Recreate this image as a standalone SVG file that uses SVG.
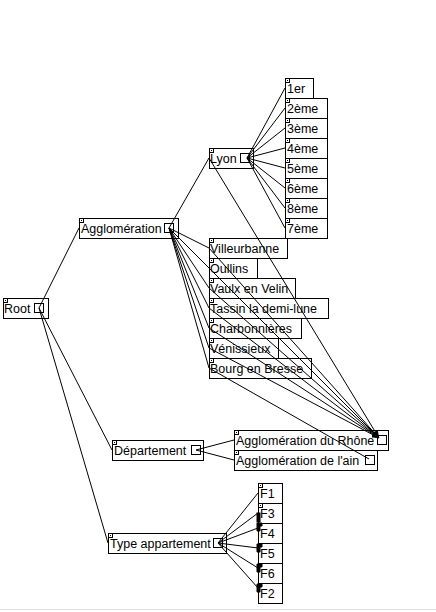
<svg xmlns="http://www.w3.org/2000/svg" width="436" height="612" viewBox="0 0 436 612">
<style>
.box{fill:#fff;stroke:#000;stroke-width:1}
.sq{fill:#fff;stroke:#000;stroke-width:1}
.mk{fill:#fff;stroke:#000;stroke-width:1}
.dot{fill:#000}
.lbl{font-family:"Liberation Sans",Arial,sans-serif;font-size:12.5px;fill:#000}
.edge{stroke:#000;stroke-width:1;fill:none}
.blk{fill:#000}
</style>
<defs>
<marker id="arr" markerUnits="userSpaceOnUse" markerWidth="7" markerHeight="6" refX="7" refY="3" orient="auto">
<path d="M0,0 L7,3 L0,6 z" fill="#000"/>
</marker>
</defs>
<rect x="0" y="0" width="436" height="612" fill="#fff"/>
<line x1="0" y1="609.5" x2="436" y2="609.5" stroke="#dcdcdc" stroke-width="1"/>

<g id="nodes">
<g id="root"><rect class="box" x="3.5" y="298.5" width="45" height="20"/><rect class="mk" x="3.5" y="298.5" width="4" height="4"/><rect class="dot" x="5" y="300" width="1" height="1"/><text class="lbl" x="4" y="313">Root</text><rect class="sq" x="34.5" y="303.5" width="9" height="9"/></g>

<g id="agglomeration"><rect class="box" x="79.5" y="218.5" width="99" height="20"/><rect class="mk" x="79.5" y="218.5" width="4" height="4"/><rect class="dot" x="81" y="220" width="1" height="1"/><text class="lbl" x="81" y="233">Agglomération</text><rect class="sq" x="164.5" y="223.5" width="9" height="9"/></g>

<g id="lyon"><rect class="box" x="209.5" y="148.5" width="44" height="20"/><rect class="mk" x="209.5" y="148.5" width="4" height="4"/><rect class="dot" x="211" y="150" width="1" height="1"/><text class="lbl" x="210" y="163">Lyon</text><rect class="sq" x="240.5" y="153.5" width="9" height="9"/></g>

<g id="l1er"><rect class="box" x="285.5" y="78.5" width="28" height="20"/><rect class="mk" x="285.5" y="78.5" width="4" height="4"/><rect class="dot" x="287" y="80" width="1" height="1"/><text class="lbl" x="287" y="93">1er</text></g>
<g id="l2eme"><rect class="box" x="285.5" y="98.5" width="42" height="20"/><rect class="mk" x="285.5" y="98.5" width="4" height="4"/><rect class="dot" x="287" y="100" width="1" height="1"/><text class="lbl" x="287" y="113">2ème</text></g>
<g id="l3eme"><rect class="box" x="285.5" y="118.5" width="42" height="20"/><rect class="mk" x="285.5" y="118.5" width="4" height="4"/><rect class="dot" x="287" y="120" width="1" height="1"/><text class="lbl" x="287" y="133">3ème</text></g>
<g id="l4eme"><rect class="box" x="285.5" y="138.5" width="42" height="20"/><rect class="mk" x="285.5" y="138.5" width="4" height="4"/><rect class="dot" x="287" y="140" width="1" height="1"/><text class="lbl" x="287" y="153">4ème</text></g>
<g id="l5eme"><rect class="box" x="285.5" y="158.5" width="42" height="20"/><rect class="mk" x="285.5" y="158.5" width="4" height="4"/><rect class="dot" x="287" y="160" width="1" height="1"/><text class="lbl" x="287" y="173">5ème</text></g>
<g id="l6eme"><rect class="box" x="285.5" y="178.5" width="42" height="20"/><rect class="mk" x="285.5" y="178.5" width="4" height="4"/><rect class="dot" x="287" y="180" width="1" height="1"/><text class="lbl" x="287" y="193">6ème</text></g>
<g id="l8eme"><rect class="box" x="285.5" y="198.5" width="42" height="20"/><rect class="mk" x="285.5" y="198.5" width="4" height="4"/><rect class="dot" x="287" y="200" width="1" height="1"/><text class="lbl" x="287" y="213">8ème</text></g>
<g id="l7eme"><rect class="box" x="285.5" y="218.5" width="42" height="20"/><rect class="mk" x="285.5" y="218.5" width="4" height="4"/><rect class="dot" x="287" y="220" width="1" height="1"/><text class="lbl" x="287" y="233">7ème</text></g>

<g id="villeurbanne"><rect class="box" x="209.5" y="238.5" width="78" height="20"/><rect class="mk" x="209.5" y="238.5" width="4" height="4"/><rect class="dot" x="211" y="240" width="1" height="1"/><text class="lbl" x="210" y="253">Villeurbanne</text></g>
<g id="oullins"><rect class="box" x="209.5" y="258.5" width="48" height="20"/><rect class="mk" x="209.5" y="258.5" width="4" height="4"/><rect class="dot" x="211" y="260" width="1" height="1"/><text class="lbl" x="210" y="273">Oullins</text></g>
<g id="vaulx"><rect class="box" x="209.5" y="278.5" width="86" height="20"/><rect class="mk" x="209.5" y="278.5" width="4" height="4"/><rect class="dot" x="211" y="280" width="1" height="1"/><text class="lbl" x="210" y="293">Vaulx en Velin</text></g>
<g id="tassin"><rect class="box" x="209.5" y="298.5" width="119" height="20"/><rect class="mk" x="209.5" y="298.5" width="4" height="4"/><rect class="dot" x="211" y="300" width="1" height="1"/><text class="lbl" x="210" y="313">Tassin la demi-lune</text></g>
<g id="charbonnieres"><rect class="box" x="209.5" y="318.5" width="92" height="20"/><rect class="mk" x="209.5" y="318.5" width="4" height="4"/><rect class="dot" x="211" y="320" width="1" height="1"/><text class="lbl" x="210" y="333">Charbonnières</text></g>
<g id="venissieux"><rect class="box" x="209.5" y="338.5" width="69" height="20"/><rect class="mk" x="209.5" y="338.5" width="4" height="4"/><rect class="dot" x="211" y="340" width="1" height="1"/><text class="lbl" x="210" y="353">Vénissieux</text></g>
<g id="bourg"><rect class="box" x="209.5" y="358.5" width="102" height="20"/><rect class="mk" x="209.5" y="358.5" width="4" height="4"/><rect class="dot" x="211" y="360" width="1" height="1"/><text class="lbl" x="210" y="373">Bourg en Bresse</text></g>

<g id="departement"><rect class="box" x="112.5" y="440.5" width="91" height="20"/><rect class="mk" x="112.5" y="440.5" width="4" height="4"/><rect class="dot" x="114" y="442" width="1" height="1"/><text class="lbl" x="114" y="455">Département</text><rect class="sq" x="191.5" y="445.5" width="9" height="9"/></g>

<g id="agglo-rhone"><rect class="box" x="234.5" y="430.5" width="154" height="20"/><rect class="mk" x="234.5" y="430.5" width="4" height="4"/><rect class="dot" x="236" y="432" width="1" height="1"/><text class="lbl" x="236" y="445">Agglomération du Rhône</text><rect class="sq" x="377.5" y="435.5" width="9" height="9"/></g>
<g id="agglo-ain"><rect class="box" x="234.5" y="450.5" width="143" height="20"/><rect class="mk" x="234.5" y="450.5" width="4" height="4"/><rect class="dot" x="236" y="452" width="1" height="1"/><text class="lbl" x="236" y="465">Agglomération de l'ain</text><rect class="sq" x="365.5" y="455.5" width="9" height="9"/></g>

<g id="type-appartement"><rect class="box" x="108.5" y="533.5" width="118" height="20"/><rect class="mk" x="108.5" y="533.5" width="4" height="4"/><rect class="dot" x="110" y="535" width="1" height="1"/><text class="lbl" x="110" y="548">Type appartement</text><rect class="sq" x="213.5" y="538.5" width="9" height="9"/></g>

<g id="f1"><rect class="box" x="258.5" y="483.5" width="24" height="20"/><rect class="mk" x="258.5" y="483.5" width="4" height="4"/><rect class="dot" x="260" y="485" width="1" height="1"/><text class="lbl" x="260" y="498">F1</text></g>
<g id="f3"><rect class="box" x="258.5" y="503.5" width="24" height="20"/><rect class="mk" x="258.5" y="503.5" width="4" height="4"/><rect class="dot" x="260" y="505" width="1" height="1"/><text class="lbl" x="260" y="518">F3</text></g>
<g id="f4"><rect class="box" x="258.5" y="523.5" width="24" height="20"/><text class="lbl" x="260" y="538">F4</text></g>
<g id="f5"><rect class="box" x="258.5" y="543.5" width="24" height="20"/><text class="lbl" x="260" y="558">F5</text></g>
<g id="f6"><rect class="box" x="258.5" y="563.5" width="24" height="20"/><text class="lbl" x="260" y="578">F6</text></g>
<g id="f2"><rect class="box" x="258.5" y="583.5" width="24" height="20"/><text class="lbl" x="260" y="598">F2</text></g>
</g>

<g id="connectors" class="edge">
<line x1="39" y1="308" x2="79" y2="228"/>
<line x1="39" y1="308" x2="112" y2="450"/>
<line x1="39" y1="308" x2="108" y2="543"/>

<line x1="169" y1="228" x2="209" y2="158"/>
<line x1="169" y1="228" x2="209" y2="248"/>
<line x1="169" y1="228" x2="209" y2="268"/>
<line x1="169" y1="228" x2="209" y2="288"/>
<line x1="169" y1="228" x2="209" y2="308"/>
<line x1="169" y1="228" x2="209" y2="328"/>
<line x1="169" y1="228" x2="209" y2="348"/>
<line x1="169" y1="228" x2="209" y2="368"/>

<line x1="247" y1="158" x2="285" y2="88"/>
<line x1="247" y1="158" x2="285" y2="108"/>
<line x1="247" y1="158" x2="285" y2="128"/>
<line x1="247" y1="158" x2="285" y2="148"/>
<line x1="247" y1="158" x2="285" y2="168"/>
<line x1="247" y1="158" x2="285" y2="188"/>
<line x1="247" y1="158" x2="285" y2="208"/>
<line x1="247" y1="158" x2="285" y2="228"/>

<line x1="209" y1="158" x2="379" y2="438" marker-end="url(#arr)"/>
<line x1="209" y1="248" x2="379" y2="438" marker-end="url(#arr)"/>
<line x1="209" y1="268" x2="379" y2="438" marker-end="url(#arr)"/>
<line x1="209" y1="288" x2="379" y2="438" marker-end="url(#arr)"/>
<line x1="209" y1="308" x2="379" y2="438" marker-end="url(#arr)"/>
<line x1="209" y1="328" x2="379" y2="438" marker-end="url(#arr)"/>
<line x1="209" y1="348" x2="379" y2="438" marker-end="url(#arr)"/>
<line x1="209" y1="368" x2="369" y2="459"/>

<line x1="196" y1="450" x2="234" y2="440"/>
<line x1="196" y1="450" x2="234" y2="460"/>

<line x1="218" y1="543" x2="258" y2="493"/>
<line x1="218" y1="543" x2="258" y2="513"/>
<line x1="218" y1="543" x2="258" y2="528"/>
<line x1="218" y1="543" x2="258" y2="548"/>
<line x1="218" y1="543" x2="258" y2="568"/>
<line x1="218" y1="543" x2="258" y2="588"/>
<rect class="blk" x="257" y="513" width="3" height="9"/>
<path class="blk" d="M257,523 h5 v3 h-2 v5 h-3 z"/>
<path class="blk" d="M257,544 h5 v3 h-2 v5 h-3 z"/>
<path class="blk" d="M257,564 h5 v3 h-2 v5 h-3 z"/>
<path class="blk" d="M257,584 h5 v3 h-2 v5 h-3 z"/>
</g>
</svg>
